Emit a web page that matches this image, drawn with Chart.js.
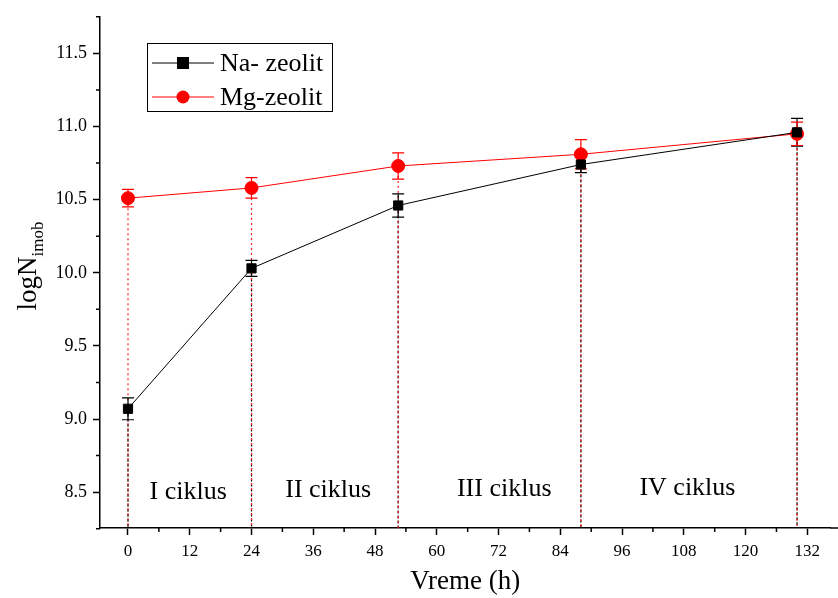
<!DOCTYPE html>
<html>
<head>
<meta charset="utf-8">
<script src="https://cdn.jsdelivr.net/npm/chart.js@4/dist/chart.umd.min.js"></script>
<style>
  body { margin: 0; background: #fff; }
  .wrap { width: 838px; height: 598px; }
</style>
</head>
<body>
<div class="wrap"><canvas id="c"></canvas></div>
<script>
const times = [0, 24, 52.5, 88, 130];
const naValues = [9.07, 10.03, 10.46, 10.74, 10.96];
const naErrors = [0.075, 0.055, 0.08, 0.055, 0.095];
const mgValues = [10.51, 10.58, 10.73, 10.81, 10.95];
const mgErrors = [0.06, 0.07, 0.09, 0.1, 0.08];
const xTicks = [0, 12, 24, 36, 48, 60, 72, 84, 96, 108, 120, 132];
const yTicks = [8.5, 9.0, 9.5, 10.0, 10.5, 11.0, 11.5];
const cycleLabels = ['I ciklus', 'II ciklus', 'III ciklus', 'IV ciklus'];
const cycleX = [11.7, 38.9, 73.1, 108.7];
const cycleY = [8.5, 8.513, 8.52, 8.53];

const serif = '"Liberation Serif", "DejaVu Serif", serif';

// error bars, drop lines, minor ticks, legend, annotations
const extras = {
  id: 'extras',
  beforeDatasetsDraw(chart) {
    const { ctx, scales: { x, y } } = chart;
    const bottom = y.bottom;
    ctx.save();
    ctx.lineWidth = 1.2;
    times.forEach((t, i) => {
      const px = x.getPixelForValue(t);
      ctx.strokeStyle = '#000';
      ctx.setLineDash([3, 2]);
      ctx.beginPath();
      ctx.moveTo(px, y.getPixelForValue(naValues[i]));
      ctx.lineTo(px, bottom);
      ctx.stroke();
      ctx.strokeStyle = '#ff2020';
      ctx.setLineDash([2, 3]);
      ctx.beginPath();
      ctx.moveTo(px, y.getPixelForValue(mgValues[i]));
      ctx.lineTo(px, bottom);
      ctx.stroke();
    });
    ctx.setLineDash([]);
    const bars = (vals, errs, color) => {
      ctx.strokeStyle = color;
      ctx.lineWidth = 1.2;
      times.forEach((t, i) => {
        const px = x.getPixelForValue(t);
        const top = y.getPixelForValue(vals[i] + errs[i]);
        const bot = y.getPixelForValue(vals[i] - errs[i]);
        ctx.beginPath();
        ctx.moveTo(px, top); ctx.lineTo(px, bot);
        ctx.moveTo(px - 6, top); ctx.lineTo(px + 6, top);
        ctx.moveTo(px - 6, bot); ctx.lineTo(px + 6, bot);
        ctx.stroke();
      });
    };
    bars(naValues, naErrors, '#000');
    bars(mgValues, mgErrors, '#ff0000');
    ctx.restore();
  },
  afterDraw(chart) {
    const { ctx, scales: { x, y } } = chart;
    ctx.save();
    // axis line runs on to the right edge
    ctx.strokeStyle = '#000';
    ctx.lineWidth = 1.5;
    ctx.beginPath();
    ctx.moveTo(x.right, y.bottom); ctx.lineTo(chart.width, y.bottom);
    ctx.stroke();
    // minor ticks
    ctx.beginPath();
    for (let v = 6; v < 138; v += 12) {
      const px = x.getPixelForValue(v);
      ctx.moveTo(px, y.bottom); ctx.lineTo(px, y.bottom + 4);
    }
    for (let v = 8.25; v < 11.8; v += 0.5) {
      const py = y.getPixelForValue(v);
      ctx.moveTo(x.left, py); ctx.lineTo(x.left - 4, py);
    }
    ctx.stroke();

    // cycle labels
    ctx.fillStyle = '#000';
    ctx.font = '26px ' + serif;
    ctx.textAlign = 'center';
    ctx.textBaseline = 'middle';
    cycleLabels.forEach((s, i) => {
      ctx.fillText(s, x.getPixelForValue(cycleX[i]), y.getPixelForValue(cycleY[i]));
    });

    // y title with subscript
    ctx.translate(28, 266);
    ctx.rotate(-Math.PI / 2);
    ctx.font = '27px ' + serif;
    const w1 = ctx.measureText('logN').width;
    ctx.font = '17px ' + serif;
    const w2 = ctx.measureText('imob').width;
    const start = -(w1 + w2) / 2;
    ctx.textAlign = 'left';
    ctx.textBaseline = 'alphabetic';
    ctx.font = '27px ' + serif;
    ctx.fillText('logN', start, 8);
    ctx.font = '17px ' + serif;
    ctx.fillText('imob', start + w1, 15);
    ctx.restore();

    // legend
    ctx.save();
    ctx.strokeStyle = '#000';
    ctx.lineWidth = 1;
    ctx.strokeRect(147.5, 43.5, 185, 68);
    ctx.beginPath();
    ctx.moveTo(152, 63); ctx.lineTo(214, 63);
    ctx.stroke();
    ctx.fillStyle = '#000';
    ctx.fillRect(177, 57, 12, 12);
    ctx.strokeStyle = '#ff0000';
    ctx.beginPath();
    ctx.moveTo(152, 97); ctx.lineTo(214, 97);
    ctx.stroke();
    ctx.fillStyle = '#ff0000';
    ctx.beginPath();
    ctx.arc(183, 97, 6.5, 0, Math.PI * 2);
    ctx.fill();
    ctx.fillStyle = '#000';
    ctx.font = '26px ' + serif;
    ctx.textBaseline = 'middle';
    ctx.fillText('Na- zeolit', 220, 64);
    ctx.fillText('Mg-zeolit', 220, 98);
    ctx.restore();
  }
};

new Chart(document.getElementById('c'), {
  type: 'line',
  data: {
    datasets: [
      {
        label: 'Na- zeolit',
        data: times.map((t, i) => ({ x: t, y: naValues[i] })),
        borderColor: '#000',
        backgroundColor: '#000',
        borderWidth: 1,
        pointStyle: 'rect',
        pointRadius: 6.5,
        pointHoverRadius: 6.5
      },
      {
        label: 'Mg-zeolit',
        data: times.map((t, i) => ({ x: t, y: mgValues[i] })),
        borderColor: '#ff0000',
        backgroundColor: '#ff0000',
        borderWidth: 1,
        pointStyle: 'circle',
        pointRadius: 6.5,
        pointHoverRadius: 6.5
      }
    ]
  },
  options: {
    responsive: true,
    maintainAspectRatio: false,
    animation: false,
    layout: { padding: { top: 15, right: 0, left: 0, bottom: 0 } },
    plugins: { legend: { display: false }, tooltip: { enabled: false } },
    scales: {
      x: {
        type: 'linear',
        min: -5.44,
        max: 136.5,
        afterBuildTicks: s => { s.ticks = xTicks.map(v => ({ value: v })); },
        afterFit: s => { s.height = 70; },
        grid: { display: true, drawOnChartArea: false, drawTicks: true, tickLength: 7, tickWidth: 1.5, color: '#000' },
        border: { display: true, color: '#000', width: 1.5 },
        ticks: { color: '#000', font: { family: serif, size: 17 }, padding: 6, maxRotation: 0 },
        title: { display: true, text: 'Vreme (h)', color: '#000', font: { family: serif, size: 27 }, padding: { top: 0, bottom: 0 } }
      },
      y: {
        min: 8.255,
        max: 11.75,
        afterBuildTicks: s => { s.ticks = yTicks.map(v => ({ value: v })); },
        afterFit: s => { s.width = 100; },
        grid: { display: true, drawOnChartArea: false, drawTicks: true, tickLength: 7, tickWidth: 1.5, color: '#000' },
        border: { display: true, color: '#000', width: 1.5 },
        ticks: { color: '#000', font: { family: serif, size: 18 }, padding: 6, callback: v => v.toFixed(1) }
      }
    }
  },
  plugins: [extras]
});
</script>
</body>
</html>
